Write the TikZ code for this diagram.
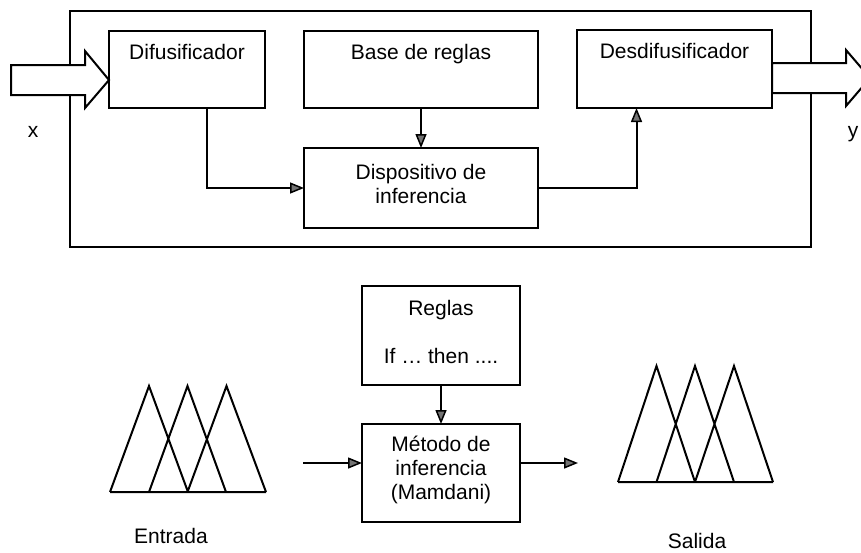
\documentclass[tikz,border=0pt]{standalone}
\usepackage{fontspec}
\setmainfont{Liberation Sans}
\usetikzlibrary{arrows.meta,calc}

\tikzset{
  blk/.style={draw, line width=2pt, inner sep=0pt, outer sep=0pt},
  txt/.style={inner sep=0pt, align=center, font=\fontsize{21}{24}\selectfont},
  conn/.style={line width=2pt, -{Triangle[length=14pt,width=11pt,fill=black!55,line width=1.5pt]}},
  bigarrow/.style={draw, line width=2pt, fill=white, line join=miter},
  memb/.style={line width=2pt, line join=miter},
}

\begin{document}
\begin{tikzpicture}[x=1pt,y=-1pt]
\useasboundingbox (0,0) rectangle (861,552);

% ---------- fuzzy system block diagram ----------
\node[blk, minimum width=741pt, minimum height=236pt] (sys) at (440.5,129) {};

\node[blk, minimum width=156pt, minimum height=77pt] (dif) at (187,69.5) {};
\node[blk, minimum width=234pt, minimum height=77pt] (base) at (421,69.5) {};
\node[blk, minimum width=195pt, minimum height=78pt] (des) at (674.5,69) {};
\node[blk, minimum width=234pt, minimum height=80pt] (inf) at (421,188) {};

\node[txt, anchor=base] (dift) at (187,59) {Difusificador};
\node[txt, anchor=base] (baset) at (421,59) {Base de reglas};
\node[txt, anchor=base] (dest) at (674.5,58) {Desdifusificador};
\node[txt] (inft) at (421,184) {Dispositivo de\\inferencia};

% input and output block arrows
\coordinate (xin) at (109,80);
\draw[bigarrow] (xin) -- ++(-24,-29) -- ++(0,14) -- ++(-74,0) -- ++(0,30)
  -- ++(74,0) -- ++(0,13) -- cycle;
\coordinate (yout) at (870,78);
\draw[bigarrow] (yout) -- ++(-24,-28) -- ++(0,13) -- ++(-74,0) -- ++(0,30)
  -- ++(74,0) -- ++(0,13) -- cycle;

\node[txt, anchor=base] (xl) at (33,137) {x};
\node[txt, anchor=base] (yl) at (853,137) {y};

% internal connections
\draw[conn] ([xshift=19.5pt]dif.south) |- (inf.west);
\draw[conn] (base.south) -- (inf.north);
\draw[conn] (inf.east) -| ([xshift=-38pt]des.south);

% ---------- Mamdani inference scheme ----------
\node[blk, minimum width=158pt, minimum height=99pt] (reg) at (441,335.5) {};
\node[txt, anchor=base] (regt1) at (441,315) {Reglas};
\node[txt, anchor=base] (regt2) at (441,363) {If … then ....};

\node[blk, minimum width=158pt, minimum height=98pt] (met) at (441,473) {};
\node[txt] (mett) at (441,470) {Método de\\inferencia\\(Mamdani)};

\draw[conn] (reg.south) -- (met.north);
\coordinate (in2) at (303,463);
\coordinate (out2) at (578,463);
\draw[conn] (in2) -- (in2 -| met.west);
\draw[conn] (out2 -| met.east) -- (out2);

% input membership functions
\draw[memb] (110,492) -- (149,386) -- (188,492)
            (149,492) -- (187.5,386) -- (226,492)
            (187.5,492) -- (226.5,386) -- (266,492)
            (110,492) -- (266,492);
\node[txt, anchor=base] (ent) at (171,543) {Entrada};

% output membership functions
\draw[memb] (618,482) -- (656.5,366) -- (695,482)
            (656.5,482) -- (695,366) -- (734,482)
            (695,482) -- (734,366) -- (773,482)
            (618,482) -- (773,482);
\node[txt, anchor=base] (sal) at (697,548) {Salida};
\end{tikzpicture}
\end{document}
